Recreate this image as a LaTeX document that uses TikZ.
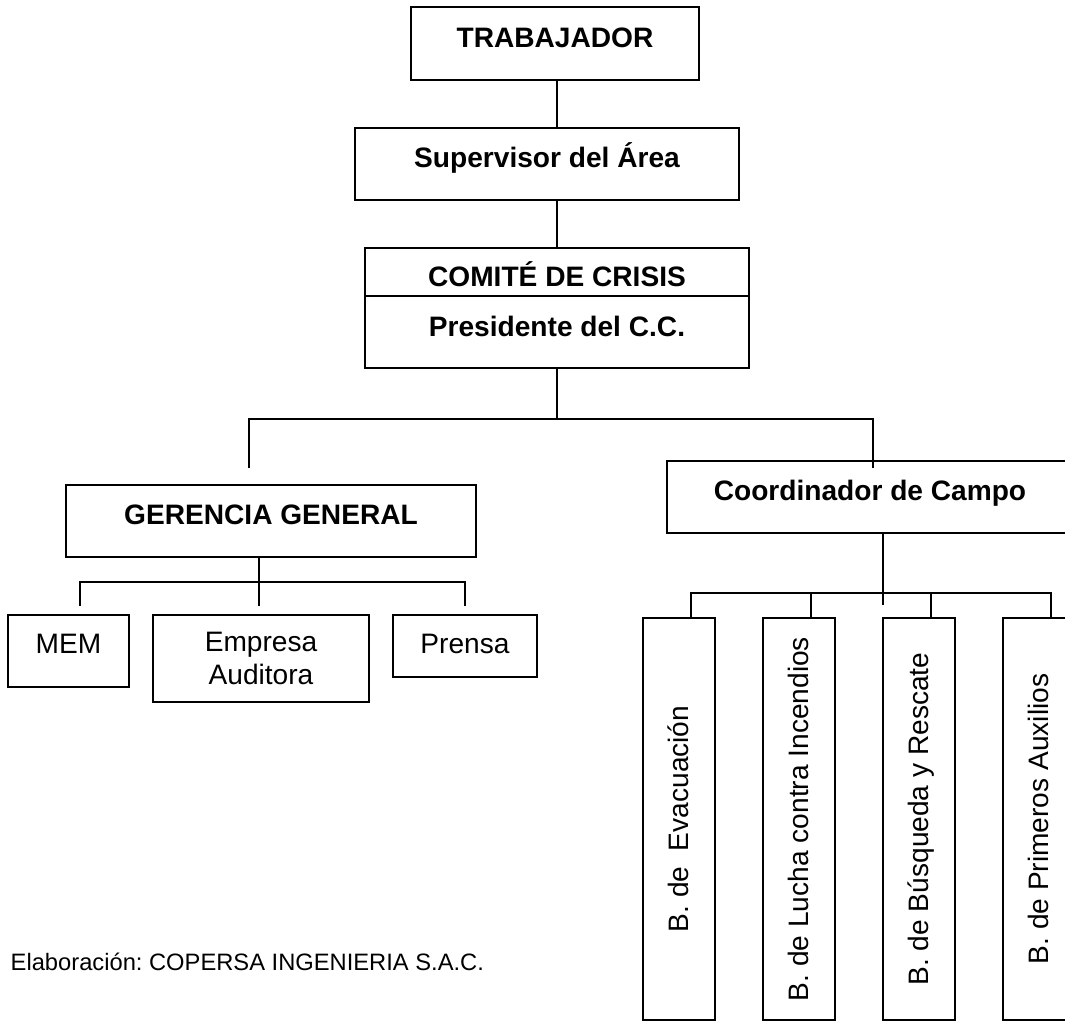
\documentclass[tikz,border=0pt]{standalone}
\usepackage{fontspec}
\setmainfont{Liberation Sans}
\usepackage{graphicx}
\frenchspacing

\newcommand{\vtexto}[1]{\rotatebox{90}{\smash{#1}\vphantom{B}}}

\begin{document}
\begin{tikzpicture}[x=0.02cm, y=-0.02cm, line width=0.8pt,
	marco/.style={draw, inner sep=0pt},
	caja/.style={marco, font=\fontsize{16}{19.2}\selectfont, text height=11.5pt, text depth=#1},
	caja/.default=0pt,
	jefe/.style={caja=#1, font=\fontsize{16}{19.2}\selectfont\bfseries},
	jefe/.default=0pt,
	vcaja/.style={marco, font=\fontsize{16}{19.2}\selectfont, minimum width=1.44cm, minimum height=8.04cm}]
	\useasboundingbox (0,0) rectangle (1065,1025);
	\clip (0,0) rectangle (1065,1025);

	\node[jefe=7.4pt, minimum width=5.76cm, minimum height=1.46cm] (trab) at (555,43.5) {TRABAJADOR};
	\node[jefe=8pt, minimum width=7.68cm, minimum height=1.44cm] (sup) at (547,164) {Supervisor del Área};
	\node[jefe, text height=16pt, minimum width=7.68cm, minimum height=0.96cm] (comite) at (557,272) {COMITÉ DE CRISIS};
	\node[jefe=6.8pt, minimum width=7.68cm, minimum height=1.44cm] (pres) at (557,332) {Presidente del C.C.};
	\node[jefe=8pt, minimum width=8.2cm, minimum height=1.44cm] (ger) at (271,521) {GERENCIA GENERAL};
	\node[jefe=8pt, minimum width=8.12cm, minimum height=1.44cm] (coord) at (870,497) {Coordinador de Campo};

	\node[caja=9pt, minimum width=2.42cm, minimum height=1.44cm] (mem) at (68.5,651) {MEM};
	\node[marco, font=\fontsize{16}{19.2}\selectfont, align=center, minimum width=4.32cm, minimum height=1.74cm] (emp) at (261,658.5) {Empresa\\Auditora};
	\node[caja=3.4pt, minimum width=2.88cm, minimum height=1.24cm] (pren) at (465,646) {Prensa};

	\foreach \i/\x/\t in {1/679/{B. de~ Evacuación}, 2/799/{B. de Lucha contra Incendios},
		3/919/{B. de Búsqueda y Rescate}, 4/1039/{B. de Primeros Auxilios}}
		\node[vcaja] (b\i) at (\x,819) {\vtexto{\t}};

	\node[anchor=west, inner sep=0pt, font=\fontsize{13.5}{16}\selectfont] (elab) at (10,962) {Elaboración: COPERSA INGENIERIA S.A.C.};

	\coordinate (spine) at (557,0);
	\coordinate (busA) at (557,419);
	\coordinate (gerIn) at (249,468);
	\coordinate (coordIn) at (873,468);
	\coordinate (gEnd) at (259,606);
	\coordinate (gbus) at (259,582);
	\coordinate (memIn) at (80,606);
	\coordinate (prenIn) at (465,606);
	\coordinate (cEnd) at (883,605);
	\coordinate (cbus) at (883,593);

	\draw (trab.south -| spine) -- (sup.north -| spine);
	\draw (sup.south -| spine) -- (comite.north -| spine);
	\draw (pres.south -| busA) -- (busA);
	\draw (gerIn) |- (busA) -| (coordIn);

	\draw (ger.south -| gEnd) -- (gEnd);
	\draw (memIn) |- (gbus) -| (prenIn);

	\draw (coord.south -| cEnd) -- (cEnd);
	\draw ([xshift=.24cm]b1.north) |- (cbus) -| ([xshift=.24cm]b4.north);
	\foreach \i in {2,3}
		\draw ([xshift=.24cm]b\i.north) -- ([xshift=.24cm]b\i.north |- cbus);
\end{tikzpicture}
\end{document}
